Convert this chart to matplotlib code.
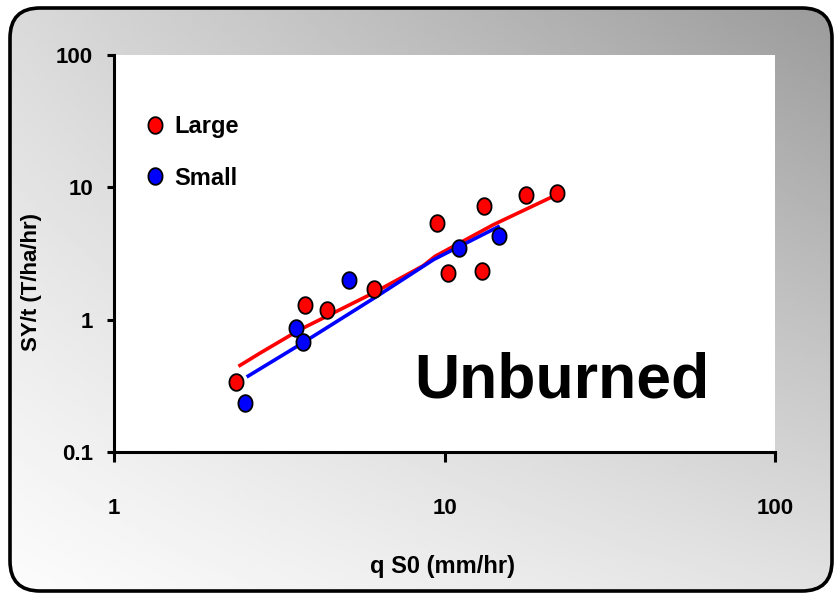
import numpy as np
import matplotlib
matplotlib.use("Agg")
import matplotlib.pyplot as plt
from matplotlib import font_manager
from matplotlib.patches import FancyBboxPatch
from matplotlib.path import Path
from matplotlib.lines import Line2D
from matplotlib.ticker import FixedLocator, FixedFormatter, NullLocator

# sediment yield vs. flow intensity, unburned plots
large_q = [2.34, 3.78, 4.41, 6.12, 9.49, 10.25, 12.98, 13.2, 17.6, 21.9]
large_sy = [0.34, 1.28, 1.19, 1.71, 5.41, 2.27, 2.35, 7.27, 8.81, 9.12]
small_q = [2.49, 3.56, 3.72, 5.15, 11.1, 14.6]
small_sy = [0.234, 0.865, 0.678, 2.0, 3.48, 4.26]

# fitted curves
large_fit_q = [2.38, 2.77, 3.65, 6.09, 8.63, 9.36, 14.06, 22.7]
large_fit_sy = [0.444, 0.56, 0.84, 1.59, 2.56, 3.01, 5.22, 9.2]
small_fit_q = [2.52, 3.65, 6.24, 9.28, 14.7]
small_fit_sy = [0.369, 0.647, 1.5, 2.85, 5.1]

x_ticks = [1, 10, 100]
x_tick_labels = ["1", "10", "100"]
y_ticks = [0.1, 1, 10, 100]
y_tick_labels = ["0.1", "1", "10", "100"]

names = {f.name for f in font_manager.fontManager.ttflist}
font = "Liberation Sans Narrow" if "Liberation Sans Narrow" in names else "Liberation Sans"
plt.rcParams["font.family"] = [font, "DejaVu Sans"]
plt.rcParams["font.weight"] = "bold"

W, H = 834, 595
fig = plt.figure(figsize=(W / 100, H / 100), dpi=100)
fig.patch.set_facecolor("white")

# rounded gray panel behind the chart
bg = fig.add_axes([0, 0, 1, 1])
bg.set_xlim(0, W)
bg.set_ylim(H, 0)
bg.axis("off")
gx, gy = np.meshgrid(np.linspace(0, 1, 200), np.linspace(0, 1, 200))
tl, tr, bl, br = 218, 155, 252, 226
grad = (tl * (1 - gx) * (1 - gy) + tr * gx * (1 - gy)
        + bl * (1 - gx) * gy + br * gx * gy) / 255.0
panel = FancyBboxPatch((10, 8), 822, 583, boxstyle="round,pad=0,rounding_size=30",
                       transform=bg.transData, facecolor="none", edgecolor="none")
bg.add_patch(panel)
im = bg.imshow(grad, cmap="gray", vmin=0, vmax=1, extent=(10, 832, 591, 8),
               aspect="auto", interpolation="bilinear")
im.set_clip_path(panel)
bg.add_patch(FancyBboxPatch((10, 8), 822, 583, boxstyle="round,pad=0,rounding_size=30",
                            facecolor="none", edgecolor="black", linewidth=2.6))

ax = fig.add_axes([114 / W, 1 - 452 / H, (775 - 114) / W, (452 - 55) / H])
ax.set_xscale("log")
ax.set_yscale("log")
ax.set_xlim(1, 100)
ax.set_ylim(0.1, 100)
ax.set_facecolor("white")

# slightly tall oval markers
t = np.linspace(0, 2 * np.pi, 40)
oval = Path(np.column_stack([0.85 * np.cos(t), np.sin(t)]))

ax.plot(large_fit_q, large_fit_sy, color="#ff0000", lw=2.6, solid_capstyle="butt", zorder=2)
ax.plot(small_fit_q, small_fit_sy, color="#0000ff", lw=2.6, solid_capstyle="butt", zorder=2)
ax.plot(large_q, large_sy, ls="none", marker=oval, ms=12, mfc="#ff0000", mec="black",
        mew=1.3, zorder=3)
ax.plot(small_q, small_sy, ls="none", marker=oval, ms=12, mfc="#0000ff", mec="black",
        mew=1.3, zorder=3)

for side in ["top", "right"]:
    ax.spines[side].set_visible(False)
for side in ["left", "bottom"]:
    ax.spines[side].set_linewidth(2.2)

ax.xaxis.set_major_locator(FixedLocator(x_ticks))
ax.xaxis.set_major_formatter(FixedFormatter(x_tick_labels))
ax.yaxis.set_major_locator(FixedLocator(y_ticks))
ax.yaxis.set_major_formatter(FixedFormatter(y_tick_labels))
ax.xaxis.set_minor_locator(NullLocator())
ax.yaxis.set_minor_locator(NullLocator())
ax.tick_params(axis="x", direction="out", length=7, width=2.2, pad=26, labelsize=16)
ax.tick_params(axis="y", direction="out", length=5, width=2.2, pad=10, labelsize=16)

ax.set_xlabel("q S0 (mm/hr)", fontsize=17, fontweight="bold")
ax.xaxis.set_label_coords((443 - 114) / 661, (452 - 566) / 397)
ax.xaxis.label.set_va("center")
ax.set_ylabel("SY/t (T/ha/hr)", fontsize=16, fontweight="bold")
ax.yaxis.set_label_coords((31 - 114) / 661, (452 - 282) / 397)
ax.yaxis.label.set_va("center")

handles = [
    Line2D([], [], ls="none", marker=oval, ms=12, mfc="#ff0000", mec="black", mew=1.3),
    Line2D([], [], ls="none", marker=oval, ms=12, mfc="#0000ff", mec="black", mew=1.3),
]
ax.legend(handles, ["Large", "Small"], loc="upper left", bbox_to_anchor=(0.048, 0.848),
          frameon=False, fontsize=17, handlelength=0.8, handletextpad=0.4,
          labelspacing=1.2, borderpad=0, borderaxespad=0)

ax.text(0.677, 0.18, "Unburned", transform=ax.transAxes, fontsize=45,
        fontweight="bold", ha="center", va="center")

fig.savefig("out.png", dpi=100)
